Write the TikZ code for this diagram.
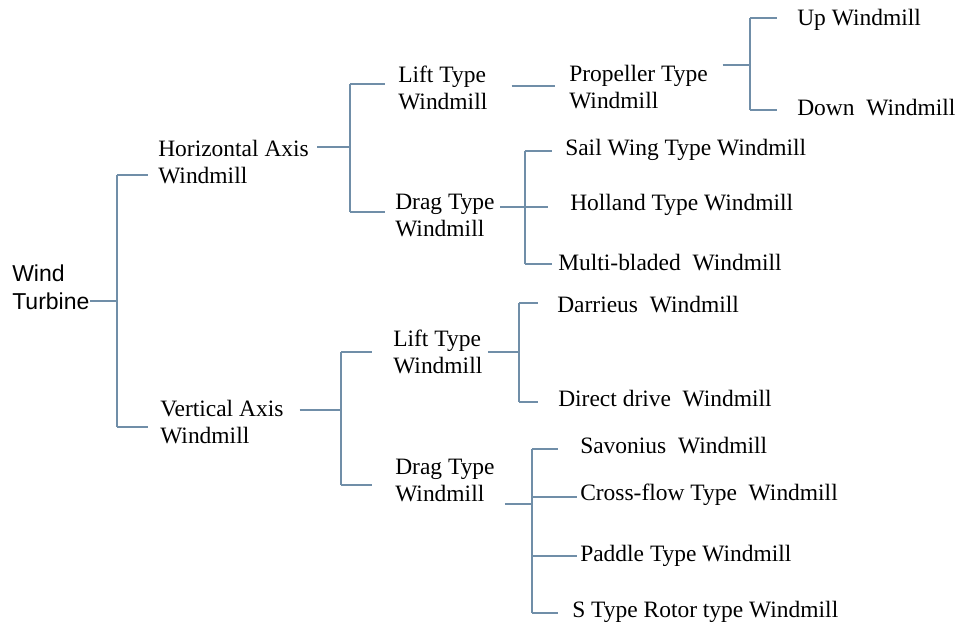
\documentclass[tikz,border=0pt]{standalone}
\usepackage{fontspec}
\setmainfont{Liberation Serif}
\newfontfamily\arialfont{Liberation Sans}
\definecolor{lc}{RGB}{112,142,168}
\begin{document}
\begin{tikzpicture}[x=0.75pt,y=-0.75pt,
  conn/.style={draw=lc,line width=1.1pt},
  lbl/.style={anchor=west,inner sep=0pt,align=left,font=\fontsize{17.6}{20.25}\selectfont}]
\useasboundingbox (0,0) rectangle (961,628);
% nodes
\node[lbl,font=\arialfont\fontsize{17.25}{21}\selectfont] (wt) at (12,287) {Wind\\Turbine};
\node[lbl] (ha) at (158,162) {Horizontal Axis\\Windmill};
\node[lbl] (va) at (160,422) {Vertical Axis\\Windmill};
\node[lbl] (lt1) at (398,88) {Lift Type\\Windmill};
\node[lbl] (dt1) at (395,215) {Drag Type\\Windmill};
\node[lbl] (pt) at (569,87) {Propeller Type\\Windmill};
\node[lbl] (up) at (797,20) {Up Windmill};
\node[lbl] (down) at (797,108) {Down\ \ Windmill};
\node[lbl] (sail) at (565,150) {Sail Wing Type Windmill};
\node[lbl] (holl) at (570,205) {Holland Type Windmill};
\node[lbl] (multi) at (558,263) {Multi-bladed\ \ Windmill};
\node[lbl] (lt2) at (393,352) {Lift Type\\Windmill};
\node[lbl] (dar) at (557,305) {Darrieus\ \ Windmill};
\node[lbl] (dd) at (558,399) {Direct drive\ \ Windmill};
\node[lbl] (dt2) at (395,480) {Drag Type\\Windmill};
\node[lbl] (sav) at (580,446) {Savonius\ \ Windmill};
\node[lbl] (cf) at (580,495) {Cross-flow Type\ \ Windmill};
\node[lbl] (pad) at (580,556) {Paddle Type Windmill};
\node[lbl] (st) at (572,612) {S Type Rotor type Windmill};
% junctions
\coordinate (r0) at (117,301); \coordinate (r1) at (117,175); \coordinate (r2) at (117,427);
\coordinate (h0) at (350,147); \coordinate (h1) at (350,84); \coordinate (h2) at (350,212);
\coordinate (p0) at (750,65); \coordinate (p1) at (750,18); \coordinate (p2) at (750,110);
\coordinate (d0) at (525,207); \coordinate (d1) at (525,151); \coordinate (d2) at (525,264);
\coordinate (v0) at (341,410); \coordinate (v1) at (341,352); \coordinate (v2) at (341,485);
\coordinate (l0) at (519,352); \coordinate (l1) at (519,303); \coordinate (l2) at (519,402);
\coordinate (g0) at (532,504); \coordinate (g1) at (532,449); \coordinate (g2) at (532,497);
\coordinate (g3) at (532,556); \coordinate (g4) at (532,613);
% root
\draw[conn,shorten <=0.5pt] (wt.east |- r0) -- (r0);
\draw[conn] (r1) -- (r2);
\draw[conn,shorten >=7.5pt] (r1) -- (r1 -| ha.west);
\draw[conn,shorten >=9pt] (r2) -- (r2 -| va.west);
% horizontal axis
\draw[conn,shorten <=6pt] (ha.east |- h0) -- (h0);
\draw[conn] (h1) -- (h2);
\draw[conn,shorten >=9.75pt] (h1) -- (h1 -| lt1.west);
\draw[conn,shorten >=7.5pt] (h2) -- (h2 -| dt1.west);
% lift -> propeller
\coordinate (q0) at (512,86);
\draw[conn,shorten >=10.5pt] (q0) -- (q0 -| pt.west);
\draw[conn,shorten <=18pt] (lt1.east |- q0) -- (q0);
% propeller
\draw[conn,shorten <=11pt] (pt.east |- p0) -- (p0);
\draw[conn] (p1) -- (p2);
\draw[conn,shorten >=15pt] (p1) -- (p1 -| up.west);
\draw[conn,shorten >=15pt] (p2) -- (p2 -| down.west);
% drag (horizontal)
\draw[conn,shorten <=4pt,shorten >=16.5pt] (dt1.east |- d0) -- (d0 -| holl.west);
\draw[conn] (d1) -- (d2);
\draw[conn,shorten >=9.75pt] (d1) -- (d1 -| sail.west);
\draw[conn,shorten >=4.5pt] (d2) -- (d2 -| multi.west);
% vertical axis
\draw[conn,shorten <=12pt] (va.east |- v0) -- (v0);
\draw[conn] (v1) -- (v2);
\draw[conn,shorten >=15.75pt] (v1) -- (v1 -| lt2.west);
\draw[conn,shorten >=17.25pt] (v2) -- (v2 -| dt2.west);
% lift (vertical)
\draw[conn,shorten <=4pt] (lt2.east |- l0) -- (l0);
\draw[conn] (l1) -- (l2);
\draw[conn,shorten >=14.25pt] (l1) -- (l1 -| dar.west);
\draw[conn,shorten >=15pt] (l2) -- (l2 -| dd.west);
% drag (vertical)
\draw[conn,shorten <=7.5pt] (dt2.east |- g0) -- (g0);
\draw[conn] (g1) -- (g4);
\draw[conn,shorten >=16.5pt] (g1) -- (g1 -| sav.west);
\draw[conn,shorten >=2.25pt] (g2) -- (g2 -| cf.west);
\draw[conn,shorten >=2.25pt] (g3) -- (g3 -| pad.west);
\draw[conn,shorten >=10.5pt] (g4) -- (g4 -| st.west);
\end{tikzpicture}
\end{document}
